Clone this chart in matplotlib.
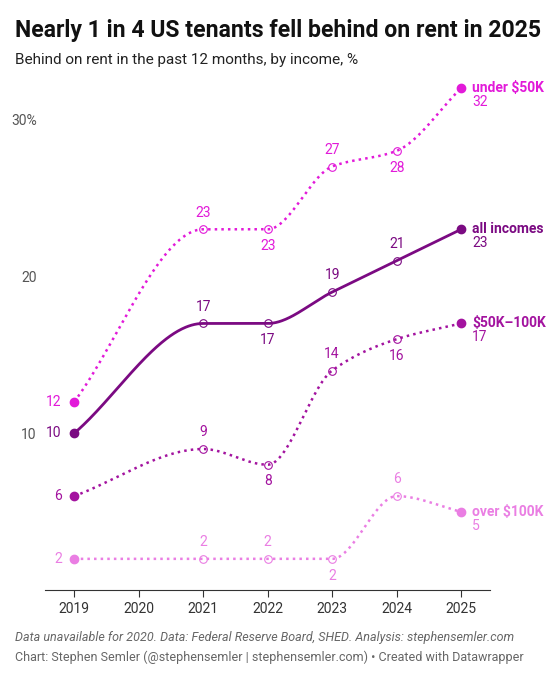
import numpy as np
import matplotlib
matplotlib.use("Agg")
import matplotlib.pyplot as plt

years = [2019, 2021, 2022, 2023, 2024, 2025]
under50 = [12, 23, 23, 27, 28, 32]
allinc = [10, 17, 17, 19, 21, 23]
mid = [6, 9, 8, 14, 16, 17]
over100 = [2, 2, 2, 2, 6, 5]
names = ["under $50K", "all incomes", "$50K–100K", "over $100K"]
colors = ["#e21ad9", "#7b0a82", "#a3139f", "#ea7ee3"]
styles = [":", "-", ":", ":"]
pos = [["l","a","b","a","b","b"],
       ["l","a","b","a","a","b"],
       ["l","a","b","a","b","b"],
       ["l","a","a","b","a","b"]]

def pchip(x, y, n=400):
    x = np.asarray(x, float); y = np.asarray(y, float)
    h = np.diff(x); d = np.diff(y) / h
    m = np.zeros_like(y)
    for k in range(1, len(x) - 1):
        if d[k-1] * d[k] <= 0:
            m[k] = 0
        else:
            w1 = 2*h[k] + h[k-1]; w2 = h[k] + 2*h[k-1]
            m[k] = (w1 + w2) / (w1/d[k-1] + w2/d[k])
    m[0] = d[0]; m[-1] = d[-1]
    xs = np.linspace(x[0], x[-1], n); ys = np.empty_like(xs)
    for i, xv in enumerate(xs):
        k = min(np.searchsorted(x, xv, side="right") - 1, len(x) - 2)
        t = (xv - x[k]) / h[k]
        h00 = 2*t**3 - 3*t**2 + 1; h10 = t**3 - 2*t**2 + t
        h01 = -2*t**3 + 3*t**2; h11 = t**3 - t**2
        ys[i] = h00*y[k] + h10*h[k]*m[k] + h01*y[k+1] + h11*h[k]*m[k+1]
    return xs, ys

plt.rcParams["font.family"] = ["Roboto", "DejaVu Sans"]
fig = plt.figure(figsize=(5.57, 6.8), dpi=100)
ax = fig.add_axes([0.081, 0.132, 0.799, 0.75])
ax.set_xlim(2018.55, 2025.45)
ax.set_ylim(0, 32.5)

for vals, nm, c, ls, ps in zip([under50, allinc, mid, over100], names, colors, styles, pos):
    xs, ys = pchip(years, vals)
    ax.plot(xs, ys, ls=ls, color=c, lw=2 if ls == "-" else 1.8, zorder=2)
    ax.plot(years[1:-1], vals[1:-1], "o", ms=5.5, mfc="none", mec=c, mew=0.8, zorder=3)
    ax.plot([years[0], years[-1]], [vals[0], vals[-1]], "o", ms=6, color=c, zorder=3)
    for x, v, p in zip(years, vals, ps):
        if p == "l":
            ax.annotate(str(v), (x, v), xytext=(-9, 0), textcoords="offset points",
                        ha="right", va="center", color=c, fontsize=10)
        elif x == years[-1]:
            ax.annotate(str(v), (x, v), xytext=(8, -5), textcoords="offset points",
                        ha="left", va="top", color=c, fontsize=10)
        else:
            ax.annotate(str(v), (x, v), xytext=(0, 7 if p == "a" else -7),
                        textcoords="offset points", ha="center",
                        va="bottom" if p == "a" else "top", color=c, fontsize=10)
    ax.annotate(nm, (years[-1], vals[-1]), xytext=(8, 0), textcoords="offset points",
                ha="left", va="center", color=c, fontsize=10, fontweight="bold")

ax.set_xticks(list(range(2019, 2026)))
ax.set_yticks([10, 20, 30])
ax.set_yticklabels(["10", "20", "30%"])
ax.tick_params(axis="y", length=0, labelsize=10, labelcolor="#555555", pad=6)
ax.tick_params(axis="x", length=5, labelsize=10, color="#333333", labelcolor="#333333")
for s in ["top", "right", "left"]:
    ax.spines[s].set_visible(False)
ax.spines["bottom"].set_color("#333333")
ax.patch.set_alpha(0)

fig.text(0.027, 0.955, "Nearly 1 in 4 US tenants fell behind on rent in 2025",
         fontsize=16.6, fontweight="bold", color="#111111", va="center")
fig.text(0.027, 0.912, "Behind on rent in the past 12 months, by income, %",
         fontsize=11, color="#222222", va="center")
fig.text(0.027, 0.062, "Data unavailable for 2020. Data: Federal Reserve Board, SHED. Analysis: stephensemler.com",
         fontsize=9, style="italic", color="#666666", va="center")
fig.text(0.027, 0.033, "Chart: Stephen Semler (@stephensemler | stephensemler.com) • Created with Datawrapper",
         fontsize=9, color="#666666", va="center")
fig.savefig("out.png", dpi=100)
